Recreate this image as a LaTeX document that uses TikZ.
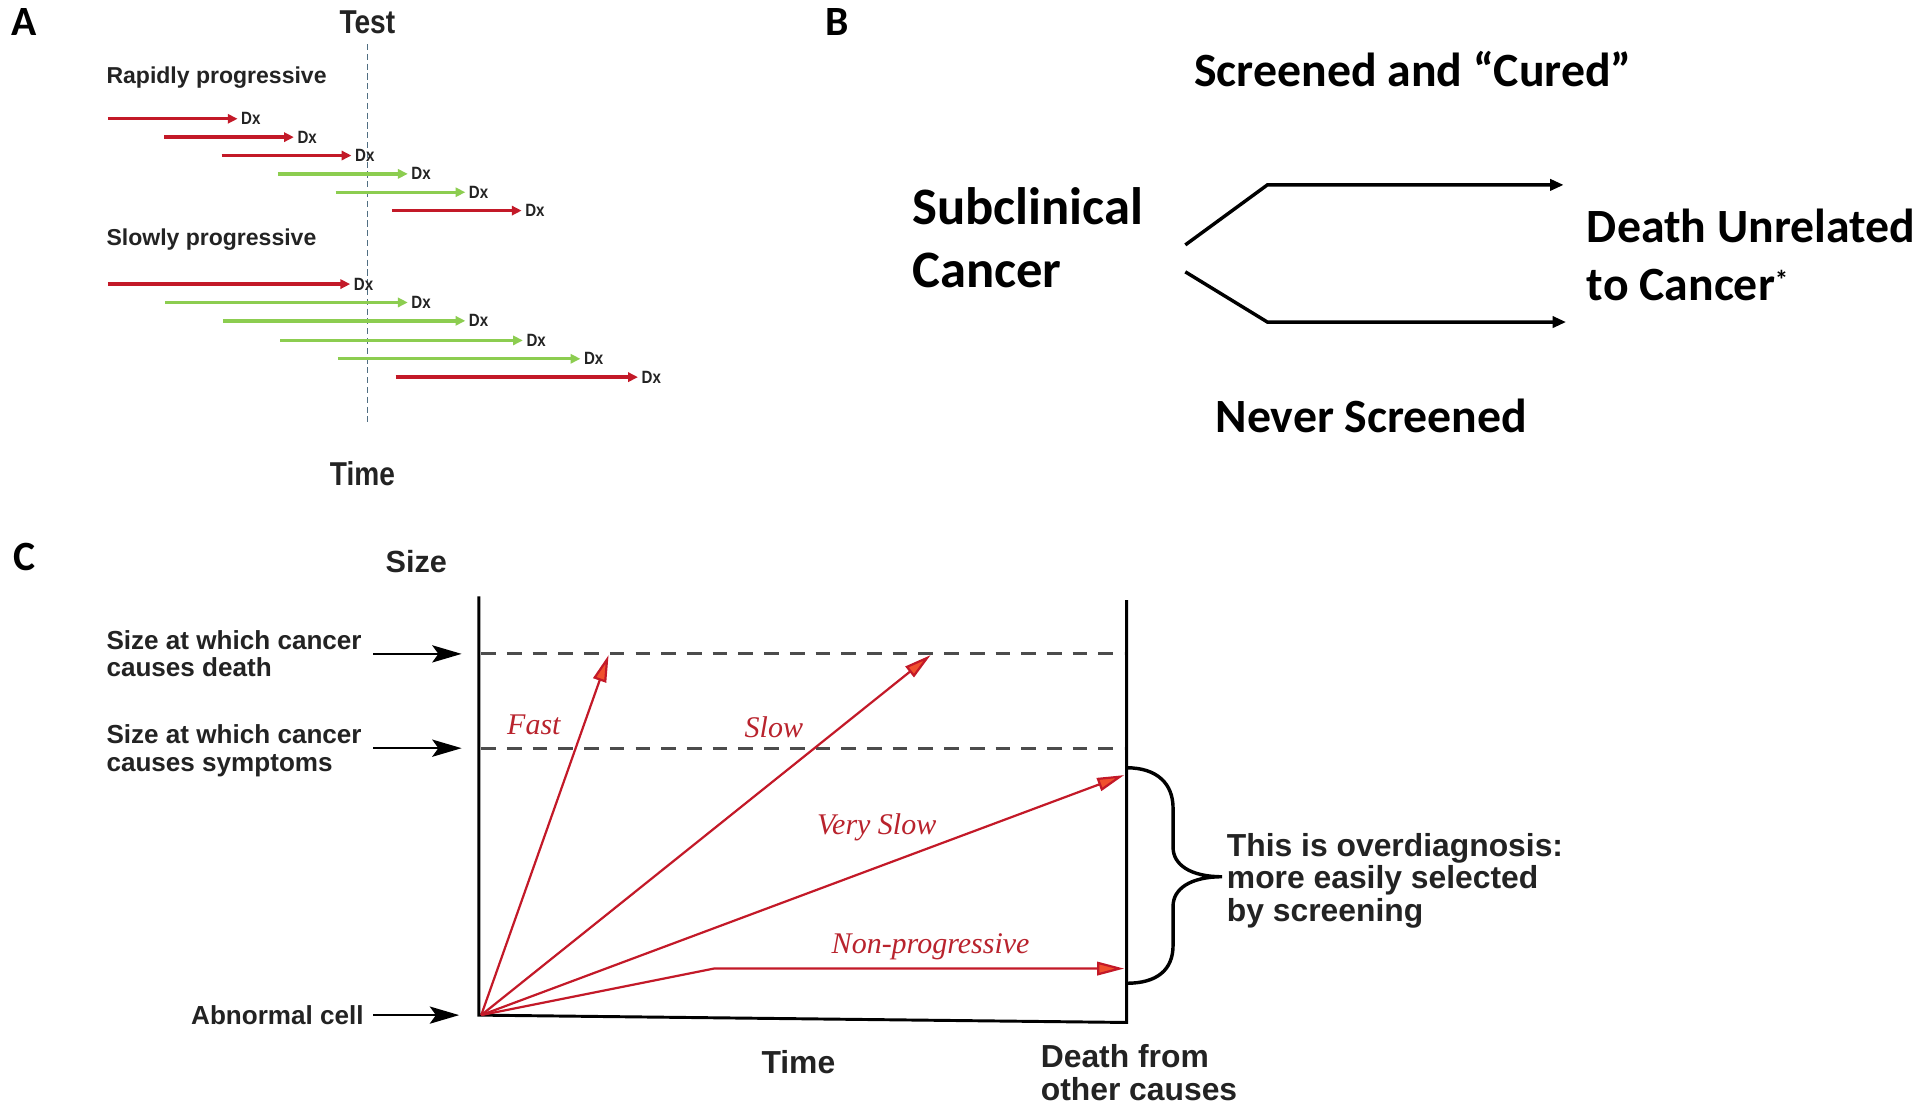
\documentclass[tikz,border=0pt]{standalone}
\usepackage{fontspec}
\setmainfont{Liberation Sans}
\newfontfamily\calfont{Carlito}
\newfontfamily\narrowfont[FakeStretch=0.85]{Liberation Sans}
\newfontfamily\timesfont{Liberation Serif}
\usetikzlibrary{arrows.meta}
\definecolor{ared}{RGB}{195,25,40}
\definecolor{agreen}{RGB}{140,205,80}
\definecolor{testline}{RGB}{80,110,130}
\definecolor{lblred}{RGB}{185,35,45}
\definecolor{headfill}{RGB}{240,80,45}
\definecolor{txtgray}{RGB}{35,35,35}
\begin{document}
\begin{tikzpicture}[x=1pt,y=-1pt,
  every node/.style={inner sep=0pt,outer sep=0pt},
  panel/.style={font=\calfont\bfseries\fontsize{34}{34}\selectfont},
  rarrow/.style={ared,line width=2.8pt,-{Triangle[length=8pt,width=7.5pt]},shorten >=3pt},
  garrow/.style={agreen,line width=2.8pt,-{Triangle[length=8pt,width=7.5pt]},shorten >=3pt},
  dxlbl/.style={font=\narrowfont\bfseries\fontsize{14.5}{14.5}\selectfont,anchor=west,text=txtgray},
  grouplbl/.style={font=\bfseries\fontsize{18.8}{20}\selectfont,anchor=west,text=txtgray},
  narrowlbl/.style={font=\narrowfont\bfseries\fontsize{27}{27}\selectfont,text=txtgray},
  btext/.style={font=\calfont\bfseries\fontsize{39}{47}\selectfont},
  barrow/.style={line width=2.8pt,-{Triangle[length=11pt,width=9pt]}},
  clbl/.style={font=\bfseries\fontsize{21.3}{22.5}\selectfont,align=left,text=txtgray},
  cbig/.style={font=\bfseries\fontsize{26}{26.5}\selectfont,align=left,text=txtgray},
  karrow/.style={line width=2pt,-{Stealth[length=24pt,width=14pt,inset=5pt]},shorten >=16pt},
  growth/.style={ared,line width=1.8pt,-{Triangle[length=22pt,width=11pt,fill=headfill]}},
  ital/.style={font=\timesfont\itshape\fontsize{24.5}{24.5}\selectfont,text=lblred},
  axis/.style={line width=2.4pt,black},
  thresh/.style={line width=2.5pt,black!70,dash pattern=on 12pt off 9pt}
]
\useasboundingbox (0,0) rectangle (1568,911);
\fill[white] (0,0) rectangle (1568,911);

% ---------------- Panel A ----------------
\node[panel] (pA) at (20,18) {A};
\node[narrowlbl] (test) at (300,18) {Test};
\node[narrowlbl] (timeA) at (296,387) {Time};
\coordinate (tTop) at (300,36);
\coordinate (tBot) at (300,346);
\draw[testline,line width=1.2pt,dash pattern=on 5pt off 3pt] (tTop) -- (tBot);
\node[grouplbl] (rapid) at (87,63) {Rapidly progressive};
\node[grouplbl] (slow) at (87,196) {Slowly progressive};

\foreach \i/\sx/\tx/\yy/\st in {1/88/197/97/rarrow,2/134/243/112/rarrow,3/181/290/127/rarrow,4/227/336/142/garrow,5/274/383/157/garrow,6/320/429/172/rarrow}{
  \coordinate (rs\i) at (\sx,\yy);
  \node[dxlbl] (rd\i) at (\tx,\yy) {Dx};
  \draw[\st] (rs\i) -- (rd\i.west);
}
\foreach \i/\sx/\tx/\yy/\st in {1/88/289/232/rarrow,2/135/336/247/garrow,3/182/383/262/garrow,4/229/430/278/garrow,5/276/477/293/garrow,6/323/524/308/rarrow}{
  \coordinate (ss\i) at (\sx,\yy);
  \node[dxlbl] (sd\i) at (\tx,\yy) {Dx};
  \draw[\st] (ss\i) -- (sd\i.west);
}

% ---------------- Panel B ----------------
\node[panel] (pB) at (684,18) {B};
\node[btext] (cured) at (1154,56) {Screened and “Cured”};
\node[btext] (never) at (1120,340) {Never Screened};
\node[btext,font=\calfont\bfseries\fontsize{43}{52}\selectfont,align=left,anchor=west] (subc) at (745,194) {Subclinical\\Cancer};
\node[btext,align=left,anchor=west] (death) at (1296,208) {Death Unrelated\\to Cancer\textsuperscript{\fontsize{22}{22}\selectfont*}};
\coordinate (u1) at (968,200);
\coordinate (u2) at (1035,151);
\coordinate (u3) at (1277,151);
\coordinate (l1) at (968,222);
\coordinate (l2) at (1035,263);
\coordinate (l3) at (1279,263);
\draw[barrow] (u1) -- (u2) -- (u3);
\draw[barrow] (l1) -- (l2) -- (l3);

% ---------------- Panel C ----------------
\node[panel] (pC) at (20,455) {C};
\node[cbig,font=\bfseries\fontsize{25}{25}\selectfont] (size) at (340,459) {Size};
\coordinate (o) at (391,829);
\coordinate (yTop) at (391,487);
\coordinate (xEnd) at (920,835);
\coordinate (rTop) at (920,490);
\draw[axis] (yTop) -- (o) -- (xEnd) -- (rTop);
\coordinate (d1) at (393,534);
\coordinate (d2) at (918,534);
\coordinate (s1) at (393,611);
\coordinate (s2) at (918,611);
\draw[thresh] (d1) -- (d2);
\draw[thresh] (s1) -- (s2);

\node[clbl,anchor=west] (ldeath) at (87,534) {Size at which cancer\\causes death};
\node[clbl,anchor=west] (lsymp) at (87,613) {Size at which cancer\\causes symptoms};
\node[clbl,anchor=east] (lcell) at (297,829) {Abnormal cell};
\coordinate (k1) at (305,534);
\coordinate (k2) at (305,611);
\coordinate (k3) at (305,829);
\draw[karrow] (k1) -- (d1);
\draw[karrow] (k2) -- (s1);
\draw[karrow] (k3) -- (o);

\coordinate (g0) at (393,829);
\coordinate (gFast) at (497,535);
\coordinate (gSlow) at (760,535);
\coordinate (gVery) at (918,633);
\coordinate (gBend) at (583,791);
\coordinate (gNon) at (918,791);
\draw[growth] (g0) -- (gFast);
\draw[growth] (g0) -- (gSlow);
\draw[growth] (g0) -- (gVery);
\draw[growth] (g0) -- (gBend) -- (gNon);

\node[ital] (tFast) at (436,592) {Fast};
\node[ital] (tSlow) at (632,594) {Slow};
\node[ital] (tVery) at (716,676) {Very Slow};
\node[ital] (tNon) at (760,773) {Non-progressive};

\node[cbig] (timeC) at (652,867) {Time};
\node[cbig,anchor=west] (dother) at (850,876) {Death from\\other causes};

\coordinate (brTop) at (920,627);
\coordinate (brTip) at (998,716);
\coordinate (brBot) at (920,803);
\draw[line width=2.8pt] (brTop) .. controls (945,627) and (958,640) .. (958,660) -- (958,692) .. controls (958,706) and (972,716) .. (brTip) .. controls (972,716) and (958,726) .. (958,740) -- (958,772) .. controls (958,792) and (945,803) .. (brBot);
\node[cbig,anchor=west] (over) at (1002,719) {This is overdiagnosis:\\more easily selected\\by screening};
\end{tikzpicture}
\end{document}
